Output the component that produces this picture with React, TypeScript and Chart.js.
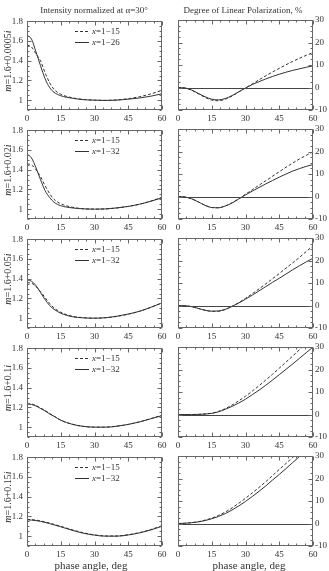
import React, { useEffect, useRef } from "react";
import { Chart, registerables } from "chart.js";
Chart.register(...registerables);

// ---------- data ----------
const ANG_I = [0, 2, 4, 6, 8, 10, 12, 15, 20, 25, 30, 35, 40, 45, 50, 55, 60];
const ANG_P = [0, 3, 6, 9, 12, 15, 18, 21, 24, 27, 30, 33, 36, 39, 42, 45, 48, 51, 54, 57, 60];

const I1_DASH = [1.56, 1.54, 1.47, 1.40, 1.28, 1.18, 1.11, 1.06, 1.025, 1.008, 1.0, 0.998, 1.003, 1.015, 1.035, 1.063, 1.10];
const I1_SOLID = [1.66, 1.62, 1.49, 1.35, 1.22, 1.13, 1.08, 1.045, 1.02, 1.005, 1.0, 0.997, 1.0, 1.01, 1.022, 1.04, 1.065];
const I2_DASH = [1.46, 1.45, 1.40, 1.33, 1.24, 1.16, 1.10, 1.055, 1.02, 1.005, 1.0, 1.002, 1.012, 1.028, 1.05, 1.082, 1.12];
const I2_SOLID = [1.56, 1.52, 1.42, 1.30, 1.19, 1.12, 1.07, 1.035, 1.013, 1.003, 1.0, 1.003, 1.013, 1.028, 1.05, 1.08, 1.115];
const I3_DASH = [1.36, 1.355, 1.32, 1.27, 1.21, 1.15, 1.105, 1.06, 1.02, 1.005, 1.0, 1.004, 1.018, 1.04, 1.07, 1.11, 1.155];
const I3_SOLID = [1.39, 1.375, 1.33, 1.26, 1.19, 1.13, 1.09, 1.05, 1.015, 1.003, 1.0, 1.005, 1.02, 1.042, 1.07, 1.11, 1.155];
const I4_DASH = [1.24, 1.235, 1.22, 1.195, 1.17, 1.14, 1.112, 1.072, 1.03, 1.008, 1.0, 1.0, 1.01, 1.028, 1.054, 1.087, 1.122];
const I4_SOLID = [1.235, 1.23, 1.215, 1.19, 1.165, 1.135, 1.11, 1.07, 1.03, 1.008, 1.0, 1.0, 1.01, 1.028, 1.053, 1.085, 1.117];
const I5_DASH = [1.17, 1.168, 1.163, 1.155, 1.145, 1.133, 1.12, 1.10, 1.065, 1.035, 1.013, 1.002, 1.002, 1.015, 1.036, 1.067, 1.107];
const I5_SOLID = [1.165, 1.163, 1.158, 1.15, 1.14, 1.128, 1.115, 1.095, 1.06, 1.03, 1.01, 1.0, 1.0, 1.012, 1.033, 1.063, 1.10];

const P1_DASH = [0, -0.2, -1.2, -2.8, -4.4, -5.6, -5.9, -5.2, -3.8, -2.0, -0.2, 1.6, 3.4, 5.2, 6.9, 8.5, 10.1, 11.6, 13.0, 14.3, 15.5];
const P1_SOLID = [0, -0.2, -1.1, -2.6, -4.1, -5.2, -5.5, -4.9, -3.6, -1.9, -0.2, 1.3, 2.6, 3.8, 4.9, 5.9, 6.8, 7.6, 8.3, 9.0, 9.6];
const P2_DASH = [0, -0.2, -1.0, -2.4, -3.9, -4.9, -5.0, -4.2, -2.8, -1.0, 1.0, 3.0, 5.0, 7.0, 9.0, 11.0, 13.0, 14.9, 16.7, 18.3, 19.8];
const P2_SOLID = [0, -0.2, -1.0, -2.4, -3.9, -4.9, -5.0, -4.2, -2.9, -1.1, 0.7, 2.4, 4.0, 5.6, 7.1, 8.6, 10.0, 11.3, 12.4, 13.4, 14.2];
const P3_DASH = [0, -0.1, -0.5, -1.3, -2.1, -2.6, -2.6, -1.8, -0.4, 1.3, 3.2, 5.2, 7.4, 9.6, 11.9, 14.2, 16.6, 19.0, 21.4, 24.0, 26.5];
const P3_SOLID = [0, -0.1, -0.5, -1.3, -2.1, -2.5, -2.4, -1.7, -0.4, 1.1, 2.8, 4.6, 6.5, 8.4, 10.3, 12.1, 14.0, 15.9, 17.7, 19.4, 21.0];
const P4_DASH = [0, 0, 0, 0.05, 0.25, 0.6, 1.4, 2.6, 4.2, 6.1, 8.1, 10.4, 12.8, 15.3, 17.9, 20.6, 23.3, 26.0, 28.8, 31.6, 34.4];
const P4_SOLID = [0, 0, 0, 0.05, 0.2, 0.5, 1.2, 2.3, 3.6, 5.1, 6.8, 8.8, 10.8, 13.0, 15.3, 17.7, 20.1, 22.5, 25.0, 27.5, 30.0];
const P5_DASH = [0, 0.1, 0.4, 0.8, 1.5, 2.4, 3.6, 5.1, 6.9, 9.0, 11.2, 13.6, 16.0, 18.6, 21.3, 24.0, 26.7, 29.4, 32.1, 34.8, 37.5];
const P5_SOLID = [0, 0.1, 0.35, 0.7, 1.3, 2.1, 3.1, 4.4, 6.0, 7.8, 9.8, 12.0, 14.3, 16.7, 19.3, 21.8, 24.4, 27.1, 29.8, 32.5, 35.2];

const ROW_IMAG = ["0.0005", "0.02", "0.05", "0.1", "0.15"];
const LEGEND_DASH = ["1\u221215", "1\u221215", "1\u221215", "1\u221215", "1\u221215"];
const LEGEND_SOLID = ["1\u221226", "1\u221232", "1\u221232", "1\u221232", "1\u221232"];

const I_DASH = [I1_DASH, I2_DASH, I3_DASH, I4_DASH, I5_DASH];
const I_SOLID = [I1_SOLID, I2_SOLID, I3_SOLID, I4_SOLID, I5_SOLID];
const P_DASH = [P1_DASH, P2_DASH, P3_DASH, P4_DASH, P5_DASH];
const P_SOLID = [P1_SOLID, P2_SOLID, P3_SOLID, P4_SOLID, P5_SOLID];

const X_TICKS = [0, 15, 30, 45, 60];
const I_TICKS = [1, 1.2, 1.4, 1.6, 1.8];
const P_TICKS = [-10, 0, 10, 20, 30];

// ---------- layout ----------
const ROW_TOPS = [20, 129, 238, 347, 456];
const PLOT_H = 90;
const FONT = "'Liberation Serif', 'Times New Roman', serif";
const TEXT = "#333";
const LINE = "#333";
const FRAME = "#666";

const framePlugin = {
  id: "frameTicks",
  afterDatasetsDraw(chart: any, _args: any, opts: any) {
    const { ctx, chartArea: a, scales } = chart;
    const xs = scales.x;
    const ys = scales.y;
    ctx.save();
    ctx.strokeStyle = FRAME;
    ctx.lineWidth = 1;
    if (opts.zero) {
      const py = Math.round(ys.getPixelForValue(0)) + 0.5;
      ctx.strokeStyle = "#444";
      ctx.beginPath();
      ctx.moveTo(a.left, py);
      ctx.lineTo(a.right, py);
      ctx.stroke();
      ctx.strokeStyle = FRAME;
    }
    const L = Math.round(a.left) + 0.5;
    const R = Math.round(a.right) - 0.5;
    const T = Math.round(a.top) + 0.5;
    const B = Math.round(a.bottom) - 0.5;
    ctx.strokeRect(L, T, R - L, B - T);
    ctx.beginPath();
    const xMinor = 3.75;
    for (let v = 0; v <= 60 + 1e-6; v += xMinor) {
      const major = Math.abs(v / 15 - Math.round(v / 15)) < 1e-6;
      const len = major ? 4 : 2;
      const px = Math.round(xs.getPixelForValue(v)) + 0.5;
      ctx.moveTo(px, B);
      ctx.lineTo(px, B - len);
      ctx.moveTo(px, T);
      ctx.lineTo(px, T + len);
    }
    const yMinor = opts.yMinor;
    const yMajor = opts.yMajor;
    for (let k = 0; ; k++) {
      const v = ys.min + k * yMinor;
      if (v > ys.max + 1e-9) break;
      const rel = (v - opts.yBase) / yMajor;
      const major = Math.abs(rel - Math.round(rel)) < 1e-6;
      const len = major ? 4 : 2;
      const py = Math.round(ys.getPixelForValue(v)) + 0.5;
      ctx.moveTo(L, py);
      ctx.lineTo(L + len, py);
      ctx.moveTo(R, py);
      ctx.lineTo(R - len, py);
    }
    ctx.stroke();
    ctx.restore();
  },
};

type PanelProps = {
  left: number;
  top: number;
  width: number;
  height: number;
  padding: any;
  kind: "I" | "P";
  row: number;
};

function Panel({ left, top, width, height, padding, kind, row }: PanelProps) {
  const ref = useRef<HTMLCanvasElement>(null);
  useEffect(() => {
    const ang = kind === "I" ? ANG_I : ANG_P;
    const dash = kind === "I" ? I_DASH[row] : P_DASH[row];
    const solid = kind === "I" ? I_SOLID[row] : P_SOLID[row];
    const yTicks = kind === "I" ? I_TICKS : P_TICKS;
    const tickFont = { family: FONT, size: 9 };
    const chart = new Chart(ref.current as HTMLCanvasElement, {
      type: "line",
      data: {
        datasets: [
          {
            data: ang.map((a, i) => ({ x: a, y: dash[i] })),
            borderColor: LINE,
            borderWidth: 1,
            borderDash: [3, 2],
            pointRadius: 0,
            fill: false,
            cubicInterpolationMode: "monotone",
          },
          {
            data: ang.map((a, i) => ({ x: a, y: solid[i] })),
            borderColor: LINE,
            borderWidth: 1,
            pointRadius: 0,
            fill: false,
            cubicInterpolationMode: "monotone",
          },
        ],
      },
      options: {
        animation: false,
        responsive: false,
        maintainAspectRatio: false,
        events: [],
        layout: { padding, autoPadding: false },
        plugins: {
          legend: { display: false },
          tooltip: { enabled: false },
          frameTicks: kind === "I"
            ? { zero: false, yMinor: 0.05, yMajor: 0.2, yBase: 1 }
            : { zero: true, yMinor: 2.5, yMajor: 10, yBase: 0 },
        } as any,
        scales: {
          x: {
            type: "linear",
            min: 0,
            max: 60,
            grid: { display: false, drawTicks: false },
            border: { display: false },
            afterBuildTicks: (s: any) => {
              s.ticks = X_TICKS.map((v) => ({ value: v }));
            },
            afterFit: (s: any) => {
              s.height = 20;
            },
            ticks: {
              font: tickFont,
              color: TEXT,
              padding: 3,
              maxRotation: 0,
              autoSkip: false,
              callback: (v: any) => String(v),
            },
          },
          y: {
            type: "linear",
            position: kind === "I" ? "left" : "right",
            min: kind === "I" ? 0.9 : -10,
            max: kind === "I" ? 1.8 : 30,
            grid: { display: false, drawTicks: false },
            border: { display: false },
            afterBuildTicks: (s: any) => {
              s.ticks = yTicks.map((v) => ({ value: v }));
            },
            afterFit: (s: any) => {
              s.width = kind === "I" ? 27 : 16;
            },
            ticks: {
              font: tickFont,
              color: TEXT,
              padding: kind === "I" ? 4 : 2,
              autoSkip: false,
              callback: (v: any) => String(v),
            },
          },
        },
      },
      plugins: [framePlugin],
    } as any);
    return () => chart.destroy();
  }, [kind, row]);
  return (
    <canvas
      ref={ref}
      width={width}
      height={height}
      style={{ position: "absolute", left, top, width, height }}
    />
  );
}

export default function App() {
  const abs = (extra: any) => ({ position: "absolute" as const, whiteSpace: "nowrap" as const, ...extra });
  return (
    <div
      style={{
        position: "absolute",
        left: 0,
        top: 0,
        width: 329,
        height: 571,
        background: "#fff",
        fontFamily: FONT,
        color: TEXT,
        overflow: "hidden",
      }}
    >
      {ROW_TOPS.map((t, r) => (
        <React.Fragment key={r}>
          <Panel left={0} top={t - 8} width={170} height={118} padding={{ top: 8, right: 8, left: 0, bottom: 0 }} kind="I" row={r} />
          <Panel left={166} top={t - 8} width={163} height={118} padding={{ top: 8, right: 0, left: 12, bottom: 0 }} kind="P" row={r} />
          <div
            style={abs({
              left: 8,
              top: t + PLOT_H / 2 - 4,
              fontSize: 10,
              lineHeight: "10px",
              transform: "translate(-50%, -50%) rotate(-90deg)",
            })}
          >
            <i>m</i>=1.6+{ROW_IMAG[r]}<i>i</i>
          </div>
          <div style={abs({ left: 75, top: t + 11, width: 13, height: 0, borderTop: `1px dashed ${LINE}` })} />
          <div style={abs({ left: 92, top: t + 11 - 6, fontSize: 9, lineHeight: "12px" })}>
            <i>x</i>={LEGEND_DASH[r]}
          </div>
          <div style={abs({ left: 75, top: t + 22, width: 14, height: 0, borderTop: `1px solid ${LINE}` })} />
          <div style={abs({ left: 92, top: t + 22 - 6, fontSize: 9, lineHeight: "12px" })}>
            <i>x</i>={LEGEND_SOLID[r]}
          </div>
        </React.Fragment>
      ))}
      <div style={abs({ left: 94, top: 10, fontSize: 9, lineHeight: "12px", transform: "translate(-50%, -50%)" })}>
        Intensity normalized at α=30°
      </div>
      <div style={abs({ left: 243, top: 10, fontSize: 9, lineHeight: "12px", transform: "translate(-50%, -50%)" })}>
        Degree of Linear Polarization, %
      </div>
      <div style={abs({ left: 91, top: 565, fontSize: 11, lineHeight: "13px", transform: "translate(-50%, -50%)" })}>
        phase angle, deg
      </div>
      <div style={abs({ left: 249, top: 565, fontSize: 11, lineHeight: "13px", transform: "translate(-50%, -50%)" })}>
        phase angle, deg
      </div>
    </div>
  );
}
